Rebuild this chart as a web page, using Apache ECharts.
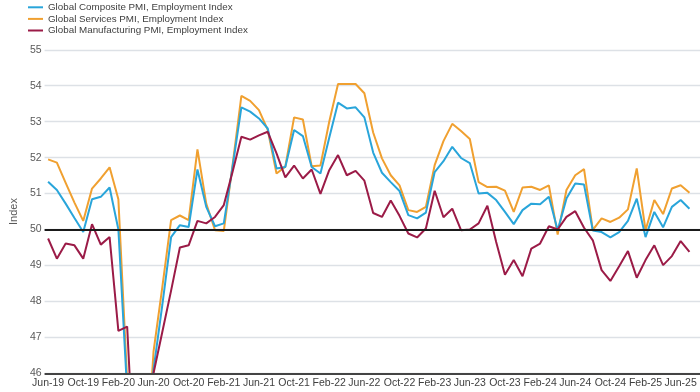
<!DOCTYPE html>
<html>
<head>
<meta charset="utf-8">
<script src="https://cdn.jsdelivr.net/npm/echarts@6/dist/echarts.min.js"></script>
<style>html,body{margin:0;padding:0;background:#fff}#c{width:700px;height:392px}</style>
</head>
<body>
<div id="c"></div>
<script>
const months = ["Jun-19","Jul-19","Aug-19","Sep-19","Oct-19","Nov-19","Dec-19","Jan-20","Feb-20","Mar-20","Apr-20","May-20",
"Jun-20","Jul-20","Aug-20","Sep-20","Oct-20","Nov-20","Dec-20","Jan-21","Feb-21","Mar-21","Apr-21","May-21",
"Jun-21","Jul-21","Aug-21","Sep-21","Oct-21","Nov-21","Dec-21","Jan-22","Feb-22","Mar-22","Apr-22","May-22",
"Jun-22","Jul-22","Aug-22","Sep-22","Oct-22","Nov-22","Dec-22","Jan-23","Feb-23","Mar-23","Apr-23","May-23",
"Jun-23","Jul-23","Aug-23","Sep-23","Oct-23","Nov-23","Dec-23","Jan-24","Feb-24","Mar-24","Apr-24","May-24",
"Jun-24","Jul-24","Aug-24","Sep-24","Oct-24","Nov-24","Dec-24","Jan-25","Feb-25","Mar-25","Apr-25","May-25",
"Jun-25","Jul-25"];

const composite = [51.33,51.10,50.72,50.32,49.93,50.84,50.91,51.17,50.00,45.50,40.50,43.00,
46.10,47.90,49.79,50.12,50.07,51.67,50.63,50.09,50.17,51.75,53.40,53.28,
53.09,52.81,51.70,51.74,52.77,52.60,51.74,51.56,52.55,53.53,53.37,53.40,
53.12,52.14,51.58,51.32,51.07,50.40,50.31,50.47,51.60,51.90,52.30,51.99,
51.85,51.00,51.02,50.82,50.49,50.15,50.54,50.72,50.70,50.91,49.98,50.86,
51.28,51.25,49.97,49.93,49.78,49.93,50.24,50.86,49.79,50.49,50.06,50.63,
50.82,50.58];

const services = [51.95,51.86,51.30,50.75,50.24,51.14,51.42,51.73,50.84,45.80,40.00,42.80,
46.60,48.40,50.26,50.39,50.26,52.23,50.72,49.98,49.96,51.80,53.72,53.58,
53.32,52.77,51.56,51.75,53.12,53.06,51.76,51.78,53.00,54.05,54.05,54.05,
53.79,52.70,51.98,51.51,51.23,50.54,50.49,50.63,51.79,52.46,52.94,52.74,
52.52,51.32,51.18,51.19,51.08,50.49,51.17,51.19,51.10,51.23,49.86,51.10,
51.51,51.68,49.99,50.31,50.21,50.33,50.56,51.70,49.98,50.82,50.43,51.14,
51.23,51.02];

const manufacturing = [49.75,49.19,49.61,49.56,49.19,50.15,49.58,49.79,47.18,47.30,42.50,43.50,
46.00,47.15,48.30,49.50,49.56,50.24,50.17,50.35,50.68,51.61,52.58,52.50,
52.62,52.72,52.12,51.45,51.78,51.42,51.67,50.99,51.65,52.07,51.51,51.63,
51.36,50.46,50.35,50.81,50.38,49.89,49.78,50.03,51.08,50.34,50.58,49.98,
50.00,50.17,50.66,49.65,48.74,49.15,48.70,49.47,49.61,50.09,50.00,50.35,
50.51,50.05,49.70,48.87,48.57,48.98,49.40,48.66,49.15,49.56,49.01,49.26,
49.68,49.38];

const labelIdx = [0,4,8,12,16,20,24,28,32,36,40,44,48,52,56,60,64,68,72];
const yTicks = [46,47,48,49,50,51,52,53,54,55];

const seriesNames = ["Global Composite PMI, Employment Index","Global Services PMI, Employment Index","Global Manufacturing PMI, Employment Index"];
const colors = ["#29a5da","#f0a030","#9b1b47"];

function pairs(arr){ return arr.map((v,i)=>[i,v]); }

const chart = echarts.init(document.getElementById('c'), null, {renderer:'canvas'});
const font = 'Liberation Sans, Arial, sans-serif';
chart.setOption({
  animation:false,
  color: colors,
  textStyle:{fontFamily:font},
  legend:{
    orient:'vertical', left:28, top:1.5, padding:0,
    itemWidth:15, itemHeight:2, itemGap:0,
    icon:'rect',
    textStyle:{fontSize:9.8, color:'#404040', fontFamily:font, lineHeight:11.6},
    data: seriesNames
  },
  grid:{left:36, right:0, top:49.8, bottom:18.7, containLabel:false},
  xAxis:{
    type:'value', min:-0.4, max:74.2,
    axisLine:{show:false}, axisTick:{show:false}, splitLine:{show:false},
    axisLabel:{customValues:labelIdx, formatter:(v)=>months[Math.round(v)], fontSize:10.5, color:'#404040', margin:4, fontFamily:font}
  },
  yAxis:{
    type:'value', min:46, max:55, interval:1,
    name:'Index', nameLocation:'middle', nameGap:25, nameRotate:90,
    nameTextStyle:{fontSize:11, color:'#595959', fontFamily:font},
    axisLine:{show:false}, axisTick:{show:false},
    axisLabel:{fontSize:10.5, color:'#595959', margin:3, fontFamily:font},
    splitLine:{lineStyle:{color:'#dde1e6', width:1.3}}
  },
  series:[
    {name:seriesNames[0], type:'line', data:pairs(composite), showSymbol:false, lineStyle:{width:2}, z:3,
     markLine:{silent:true, symbol:'none', label:{show:false}, lineStyle:{color:'#1a1a1a', width:2, type:'solid'},
       data:[{yAxis:50},{yAxis:46, lineStyle:{color:'#444', width:2}}]}},
    {name:seriesNames[1], type:'line', data:pairs(services), showSymbol:false, lineStyle:{width:2}, z:2},
    {name:seriesNames[2], type:'line', data:pairs(manufacturing), showSymbol:false, lineStyle:{width:2}, z:4}
  ]
});
</script>
</body>
</html>
